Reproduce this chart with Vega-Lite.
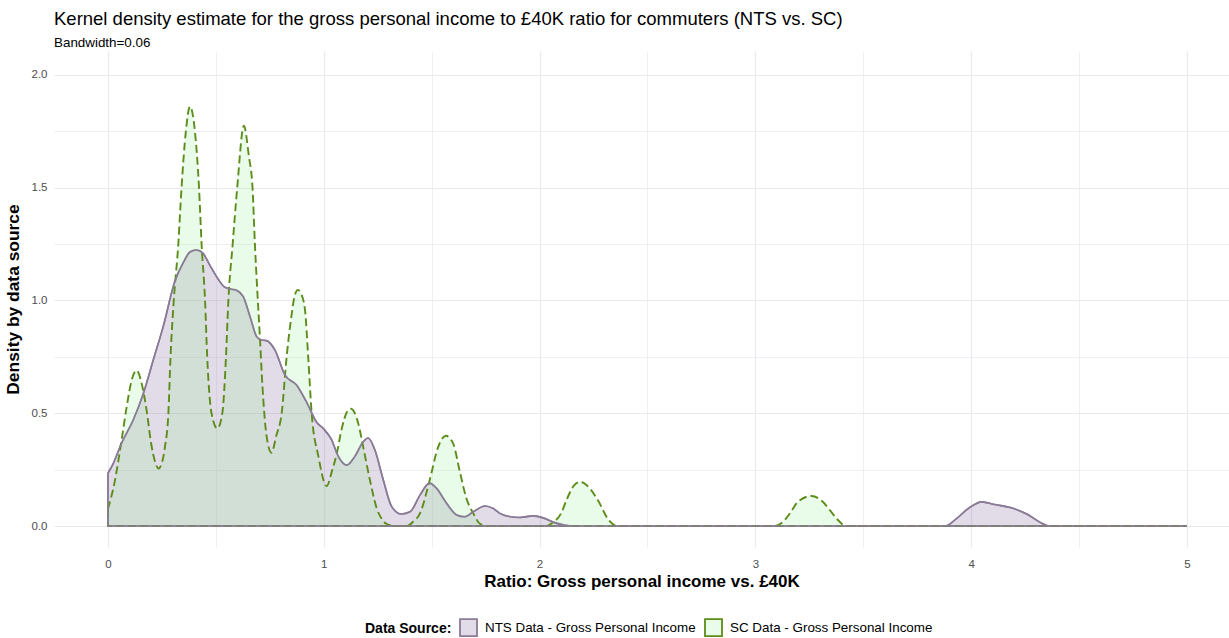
{
  "$schema": "https://vega.github.io/schema/vega-lite/v6.json",
  "width": 1175,
  "height": 496,
  "autosize": {"type": "none"},
  "padding": {"left": 54, "top": 51, "right": 0, "bottom": 91},
  "background": "white",
  "config": {
    "view": {"stroke": null},
    "font": "Liberation Sans"
  },
  "title": {
    "text": "Kernel density estimate for the gross personal income to £40K ratio for commuters (NTS vs. SC)",
    "subtitle": "Bandwidth=0.06",
    "anchor": "start",
    "frame": "group",
    "font": "Liberation Sans",
    "fontSize": 18.5,
    "fontWeight": "normal",
    "color": "#000000",
    "subtitleFont": "Liberation Sans",
    "subtitleFontSize": 13.4,
    "subtitleColor": "#000000",
    "subtitlePadding": 7,
    "offset": 2
  },
  "datasets": {
    "sc": [
      {"s": "SC Data - Gross Personal Income", "x": 0.0, "y": 0.075},
      {"s": "SC Data - Gross Personal Income", "x": 0.032, "y": 0.2},
      {"s": "SC Data - Gross Personal Income", "x": 0.063, "y": 0.38},
      {"s": "SC Data - Gross Personal Income", "x": 0.087, "y": 0.53},
      {"s": "SC Data - Gross Personal Income", "x": 0.11, "y": 0.647},
      {"s": "SC Data - Gross Personal Income", "x": 0.133, "y": 0.69},
      {"s": "SC Data - Gross Personal Income", "x": 0.156, "y": 0.633},
      {"s": "SC Data - Gross Personal Income", "x": 0.179, "y": 0.514},
      {"s": "SC Data - Gross Personal Income", "x": 0.2, "y": 0.367},
      {"s": "SC Data - Gross Personal Income", "x": 0.22, "y": 0.28},
      {"s": "SC Data - Gross Personal Income", "x": 0.235, "y": 0.255},
      {"s": "SC Data - Gross Personal Income", "x": 0.25, "y": 0.28},
      {"s": "SC Data - Gross Personal Income", "x": 0.264, "y": 0.35},
      {"s": "SC Data - Gross Personal Income", "x": 0.28, "y": 0.5},
      {"s": "SC Data - Gross Personal Income", "x": 0.29, "y": 0.75},
      {"s": "SC Data - Gross Personal Income", "x": 0.305, "y": 1.0},
      {"s": "SC Data - Gross Personal Income", "x": 0.326, "y": 1.25},
      {"s": "SC Data - Gross Personal Income", "x": 0.341, "y": 1.5},
      {"s": "SC Data - Gross Personal Income", "x": 0.361, "y": 1.75},
      {"s": "SC Data - Gross Personal Income", "x": 0.38, "y": 1.86},
      {"s": "SC Data - Gross Personal Income", "x": 0.403, "y": 1.75},
      {"s": "SC Data - Gross Personal Income", "x": 0.422, "y": 1.5},
      {"s": "SC Data - Gross Personal Income", "x": 0.434, "y": 1.25},
      {"s": "SC Data - Gross Personal Income", "x": 0.45, "y": 1.0},
      {"s": "SC Data - Gross Personal Income", "x": 0.46, "y": 0.75},
      {"s": "SC Data - Gross Personal Income", "x": 0.48, "y": 0.5},
      {"s": "SC Data - Gross Personal Income", "x": 0.507, "y": 0.433},
      {"s": "SC Data - Gross Personal Income", "x": 0.53, "y": 0.5},
      {"s": "SC Data - Gross Personal Income", "x": 0.547, "y": 0.75},
      {"s": "SC Data - Gross Personal Income", "x": 0.558, "y": 1.0},
      {"s": "SC Data - Gross Personal Income", "x": 0.578, "y": 1.25},
      {"s": "SC Data - Gross Personal Income", "x": 0.599, "y": 1.5},
      {"s": "SC Data - Gross Personal Income", "x": 0.63, "y": 1.775},
      {"s": "SC Data - Gross Personal Income", "x": 0.653, "y": 1.64},
      {"s": "SC Data - Gross Personal Income", "x": 0.67, "y": 1.5},
      {"s": "SC Data - Gross Personal Income", "x": 0.681, "y": 1.25},
      {"s": "SC Data - Gross Personal Income", "x": 0.69, "y": 1.08},
      {"s": "SC Data - Gross Personal Income", "x": 0.704, "y": 0.84},
      {"s": "SC Data - Gross Personal Income", "x": 0.716, "y": 0.62},
      {"s": "SC Data - Gross Personal Income", "x": 0.735, "y": 0.4},
      {"s": "SC Data - Gross Personal Income", "x": 0.758, "y": 0.325},
      {"s": "SC Data - Gross Personal Income", "x": 0.78, "y": 0.4},
      {"s": "SC Data - Gross Personal Income", "x": 0.805, "y": 0.5},
      {"s": "SC Data - Gross Personal Income", "x": 0.828, "y": 0.75},
      {"s": "SC Data - Gross Personal Income", "x": 0.85, "y": 0.93},
      {"s": "SC Data - Gross Personal Income", "x": 0.865, "y": 1.02},
      {"s": "SC Data - Gross Personal Income", "x": 0.88, "y": 1.047},
      {"s": "SC Data - Gross Personal Income", "x": 0.895, "y": 1.03},
      {"s": "SC Data - Gross Personal Income", "x": 0.913, "y": 0.96},
      {"s": "SC Data - Gross Personal Income", "x": 0.928, "y": 0.75},
      {"s": "SC Data - Gross Personal Income", "x": 0.944, "y": 0.5},
      {"s": "SC Data - Gross Personal Income", "x": 0.975, "y": 0.31},
      {"s": "SC Data - Gross Personal Income", "x": 1.013, "y": 0.177},
      {"s": "SC Data - Gross Personal Income", "x": 1.04, "y": 0.25},
      {"s": "SC Data - Gross Personal Income", "x": 1.06, "y": 0.32},
      {"s": "SC Data - Gross Personal Income", "x": 1.083, "y": 0.43},
      {"s": "SC Data - Gross Personal Income", "x": 1.11, "y": 0.51},
      {"s": "SC Data - Gross Personal Income", "x": 1.126, "y": 0.52},
      {"s": "SC Data - Gross Personal Income", "x": 1.16, "y": 0.455},
      {"s": "SC Data - Gross Personal Income", "x": 1.183, "y": 0.35},
      {"s": "SC Data - Gross Personal Income", "x": 1.214, "y": 0.204},
      {"s": "SC Data - Gross Personal Income", "x": 1.245, "y": 0.08},
      {"s": "SC Data - Gross Personal Income", "x": 1.27, "y": 0.03},
      {"s": "SC Data - Gross Personal Income", "x": 1.29, "y": 0.01},
      {"s": "SC Data - Gross Personal Income", "x": 1.33, "y": 0.0},
      {"s": "SC Data - Gross Personal Income", "x": 1.384, "y": 0.0},
      {"s": "SC Data - Gross Personal Income", "x": 1.415, "y": 0.02},
      {"s": "SC Data - Gross Personal Income", "x": 1.446, "y": 0.056},
      {"s": "SC Data - Gross Personal Income", "x": 1.49, "y": 0.2},
      {"s": "SC Data - Gross Personal Income", "x": 1.53, "y": 0.35},
      {"s": "SC Data - Gross Personal Income", "x": 1.566, "y": 0.4},
      {"s": "SC Data - Gross Personal Income", "x": 1.6, "y": 0.365},
      {"s": "SC Data - Gross Personal Income", "x": 1.63, "y": 0.244},
      {"s": "SC Data - Gross Personal Income", "x": 1.66, "y": 0.126},
      {"s": "SC Data - Gross Personal Income", "x": 1.693, "y": 0.056},
      {"s": "SC Data - Gross Personal Income", "x": 1.724, "y": 0.01},
      {"s": "SC Data - Gross Personal Income", "x": 1.76, "y": 0.0},
      {"s": "SC Data - Gross Personal Income", "x": 2.03, "y": 0.0},
      {"s": "SC Data - Gross Personal Income", "x": 2.06, "y": 0.015},
      {"s": "SC Data - Gross Personal Income", "x": 2.1, "y": 0.056},
      {"s": "SC Data - Gross Personal Income", "x": 2.127, "y": 0.12},
      {"s": "SC Data - Gross Personal Income", "x": 2.16, "y": 0.18},
      {"s": "SC Data - Gross Personal Income", "x": 2.19, "y": 0.196},
      {"s": "SC Data - Gross Personal Income", "x": 2.22, "y": 0.18},
      {"s": "SC Data - Gross Personal Income", "x": 2.27, "y": 0.115},
      {"s": "SC Data - Gross Personal Income", "x": 2.32, "y": 0.027},
      {"s": "SC Data - Gross Personal Income", "x": 2.36, "y": 0.0},
      {"s": "SC Data - Gross Personal Income", "x": 3.09, "y": 0.0},
      {"s": "SC Data - Gross Personal Income", "x": 3.13, "y": 0.02},
      {"s": "SC Data - Gross Personal Income", "x": 3.16, "y": 0.056},
      {"s": "SC Data - Gross Personal Income", "x": 3.2, "y": 0.11},
      {"s": "SC Data - Gross Personal Income", "x": 3.26, "y": 0.133},
      {"s": "SC Data - Gross Personal Income", "x": 3.31, "y": 0.11},
      {"s": "SC Data - Gross Personal Income", "x": 3.35, "y": 0.065},
      {"s": "SC Data - Gross Personal Income", "x": 3.38, "y": 0.03},
      {"s": "SC Data - Gross Personal Income", "x": 3.42, "y": 0.0},
      {"s": "SC Data - Gross Personal Income", "x": 5.0, "y": 0.0}
    ],
    "nts": [
      {"s": "NTS Data - Gross Personal Income", "x": 0.0, "y": 0.234},
      {"s": "NTS Data - Gross Personal Income", "x": 0.025, "y": 0.278},
      {"s": "NTS Data - Gross Personal Income", "x": 0.063, "y": 0.367},
      {"s": "NTS Data - Gross Personal Income", "x": 0.117, "y": 0.47},
      {"s": "NTS Data - Gross Personal Income", "x": 0.164, "y": 0.588},
      {"s": "NTS Data - Gross Personal Income", "x": 0.21, "y": 0.736},
      {"s": "NTS Data - Gross Personal Income", "x": 0.256, "y": 0.884},
      {"s": "NTS Data - Gross Personal Income", "x": 0.31, "y": 1.085},
      {"s": "NTS Data - Gross Personal Income", "x": 0.35, "y": 1.17},
      {"s": "NTS Data - Gross Personal Income", "x": 0.38, "y": 1.215},
      {"s": "NTS Data - Gross Personal Income", "x": 0.41, "y": 1.224},
      {"s": "NTS Data - Gross Personal Income", "x": 0.44, "y": 1.21},
      {"s": "NTS Data - Gross Personal Income", "x": 0.47, "y": 1.16},
      {"s": "NTS Data - Gross Personal Income", "x": 0.504, "y": 1.105},
      {"s": "NTS Data - Gross Personal Income", "x": 0.54, "y": 1.06},
      {"s": "NTS Data - Gross Personal Income", "x": 0.573, "y": 1.05},
      {"s": "NTS Data - Gross Personal Income", "x": 0.596, "y": 1.045},
      {"s": "NTS Data - Gross Personal Income", "x": 0.627, "y": 1.017},
      {"s": "NTS Data - Gross Personal Income", "x": 0.658, "y": 0.93},
      {"s": "NTS Data - Gross Personal Income", "x": 0.689, "y": 0.84},
      {"s": "NTS Data - Gross Personal Income", "x": 0.71, "y": 0.825},
      {"s": "NTS Data - Gross Personal Income", "x": 0.735, "y": 0.822},
      {"s": "NTS Data - Gross Personal Income", "x": 0.774, "y": 0.78},
      {"s": "NTS Data - Gross Personal Income", "x": 0.82, "y": 0.67},
      {"s": "NTS Data - Gross Personal Income", "x": 0.874, "y": 0.625},
      {"s": "NTS Data - Gross Personal Income", "x": 0.92, "y": 0.55},
      {"s": "NTS Data - Gross Personal Income", "x": 0.967, "y": 0.46},
      {"s": "NTS Data - Gross Personal Income", "x": 1.0, "y": 0.43},
      {"s": "NTS Data - Gross Personal Income", "x": 1.035, "y": 0.385},
      {"s": "NTS Data - Gross Personal Income", "x": 1.067, "y": 0.31},
      {"s": "NTS Data - Gross Personal Income", "x": 1.106, "y": 0.27},
      {"s": "NTS Data - Gross Personal Income", "x": 1.145, "y": 0.31},
      {"s": "NTS Data - Gross Personal Income", "x": 1.183, "y": 0.374},
      {"s": "NTS Data - Gross Personal Income", "x": 1.206, "y": 0.39},
      {"s": "NTS Data - Gross Personal Income", "x": 1.237, "y": 0.337},
      {"s": "NTS Data - Gross Personal Income", "x": 1.276, "y": 0.204},
      {"s": "NTS Data - Gross Personal Income", "x": 1.315, "y": 0.086},
      {"s": "NTS Data - Gross Personal Income", "x": 1.36, "y": 0.053},
      {"s": "NTS Data - Gross Personal Income", "x": 1.4, "y": 0.063},
      {"s": "NTS Data - Gross Personal Income", "x": 1.446, "y": 0.137},
      {"s": "NTS Data - Gross Personal Income", "x": 1.49, "y": 0.19},
      {"s": "NTS Data - Gross Personal Income", "x": 1.523, "y": 0.167},
      {"s": "NTS Data - Gross Personal Income", "x": 1.57, "y": 0.1},
      {"s": "NTS Data - Gross Personal Income", "x": 1.616, "y": 0.049},
      {"s": "NTS Data - Gross Personal Income", "x": 1.654, "y": 0.041},
      {"s": "NTS Data - Gross Personal Income", "x": 1.693, "y": 0.063},
      {"s": "NTS Data - Gross Personal Income", "x": 1.747, "y": 0.089},
      {"s": "NTS Data - Gross Personal Income", "x": 1.785, "y": 0.078},
      {"s": "NTS Data - Gross Personal Income", "x": 1.816, "y": 0.056},
      {"s": "NTS Data - Gross Personal Income", "x": 1.86, "y": 0.042},
      {"s": "NTS Data - Gross Personal Income", "x": 1.91, "y": 0.038},
      {"s": "NTS Data - Gross Personal Income", "x": 1.97, "y": 0.045},
      {"s": "NTS Data - Gross Personal Income", "x": 2.02, "y": 0.035},
      {"s": "NTS Data - Gross Personal Income", "x": 2.07, "y": 0.015},
      {"s": "NTS Data - Gross Personal Income", "x": 2.12, "y": 0.003},
      {"s": "NTS Data - Gross Personal Income", "x": 2.16, "y": 0.0},
      {"s": "NTS Data - Gross Personal Income", "x": 3.88, "y": 0.0},
      {"s": "NTS Data - Gross Personal Income", "x": 3.925, "y": 0.027},
      {"s": "NTS Data - Gross Personal Income", "x": 3.99, "y": 0.08},
      {"s": "NTS Data - Gross Personal Income", "x": 4.05, "y": 0.107},
      {"s": "NTS Data - Gross Personal Income", "x": 4.11, "y": 0.095},
      {"s": "NTS Data - Gross Personal Income", "x": 4.19, "y": 0.08},
      {"s": "NTS Data - Gross Personal Income", "x": 4.26, "y": 0.052},
      {"s": "NTS Data - Gross Personal Income", "x": 4.32, "y": 0.016},
      {"s": "NTS Data - Gross Personal Income", "x": 4.36, "y": 0.0},
      {"s": "NTS Data - Gross Personal Income", "x": 5.0, "y": 0.0}
    ]
  },
  "encoding": {
    "x": {
      "field": "x",
      "type": "quantitative",
      "scale": {"domain": [-0.25, 5.195], "nice": false, "zero": false},
      "axis": {
        "title": "Ratio: Gross personal income vs. £40K",
        "titleFont": "Liberation Sans",
        "titleFontSize": 17,
        "titleFontWeight": "bold",
        "titleColor": "#000000",
        "titlePadding": 4,
        "values": [0, 0.5, 1, 1.5, 2, 2.5, 3, 3.5, 4, 4.5, 5],
        "labelExpr": "datum.value % 1 === 0 ? format(datum.value, 'd') : ''",
        "labelFont": "Liberation Sans",
        "labelFontSize": 11.5,
        "labelColor": "#4d4d4d",
        "labelPadding": 11,
        "ticks": false,
        "tickSize": 0,
        "domain": false,
        "grid": true,
        "gridColor": "#e9e9ef",
        "gridWidth": {"condition": {"test": "datum.value % 1 === 0", "value": 1.2}, "value": 0.7}
      }
    },
    "y": {
      "field": "y",
      "type": "quantitative",
      "scale": {"domain": [-0.0931, 2.1064], "nice": false, "zero": false},
      "axis": {
        "title": "Density by data source",
        "titleFont": "Liberation Sans",
        "titleFontSize": 17.4,
        "titleFontWeight": "bold",
        "titleColor": "#000000",
        "titlePadding": 9,
        "values": [0, 0.25, 0.5, 0.75, 1, 1.25, 1.5, 1.75, 2],
        "labelExpr": "datum.value % 0.5 === 0 ? format(datum.value, '.1f') : ''",
        "labelFont": "Liberation Sans",
        "labelFontSize": 11.5,
        "labelColor": "#4d4d4d",
        "labelPadding": 7,
        "ticks": false,
        "tickSize": 0,
        "domain": false,
        "grid": true,
        "gridColor": "#e9e9ef",
        "gridWidth": {"condition": {"test": "datum.value % 0.5 === 0", "value": 1.2}, "value": 0.7}
      }
    }
  },
  "layer": [
    {
      "data": {"name": "nts"},
      "mark": {"type": "area", "interpolate": "monotone", "strokeWidth": 1.6, "opacity": 1, "fillOpacity": 1, "strokeOpacity": 1},
      "encoding": {
        "fill": {
          "field": "s",
          "type": "nominal",
          "scale": {
            "domain": ["NTS Data - Gross Personal Income", "SC Data - Gross Personal Income"],
            "range": ["rgba(150,124,172,0.28)", "rgba(144,238,144,0.2)"]
          },
          "legend": {
            "title": "Data Source:",
            "orient": "none",
            "legendX": 311,
            "legendY": 567,
            "direction": "horizontal",
            "titleOrient": "left",
            "titleFont": "Liberation Sans",
            "titleFontSize": 14,
            "titleFontWeight": "bold",
            "titleColor": "#000000",
            "titlePadding": 7,
            "titleBaseline": "middle",
            "labelFont": "Liberation Sans",
            "labelFontSize": 13.4,
            "labelColor": "#000000",
            "labelOffset": 7,
            "labelLimit": 400,
            "columnPadding": 5,
            "symbolType": "square",
            "symbolSize": 289,
            "symbolStrokeWidth": 1.8,
            "encode": {
              "symbols": {
                "update": {
                  "fill": {"signal": "datum.value === 'NTS Data - Gross Personal Income' ? '#d6cbde' : '#dcf7e0'"},
                  "strokeDash": {"signal": "datum.value === 'SC Data - Gross Personal Income' ? [10, 4] : [1, 0]"}
                }
              }
            }
          }
        },
        "stroke": {
          "field": "s",
          "type": "nominal",
          "scale": {
            "domain": ["NTS Data - Gross Personal Income", "SC Data - Gross Personal Income"],
            "range": ["#8a7b96", "#5e8c1a"]
          },
          "legend": {"title": "Data Source:"}
        }
      }
    },
    {
      "data": {"name": "sc"},
      "mark": {"type": "area", "interpolate": "monotone", "strokeWidth": 1.9, "strokeDash": [8, 4], "opacity": 1, "fillOpacity": 1, "strokeOpacity": 1},
      "encoding": {
        "fill": {"field": "s", "type": "nominal"},
        "stroke": {"field": "s", "type": "nominal"}
      }
    },
    {
      "data": {"name": "nts"},
      "mark": {"type": "area", "interpolate": "monotone", "strokeWidth": 1.6, "opacity": 1, "fillOpacity": 0, "strokeOpacity": 1},
      "encoding": {
        "stroke": {"field": "s", "type": "nominal"}
      }
    }
  ]
}
